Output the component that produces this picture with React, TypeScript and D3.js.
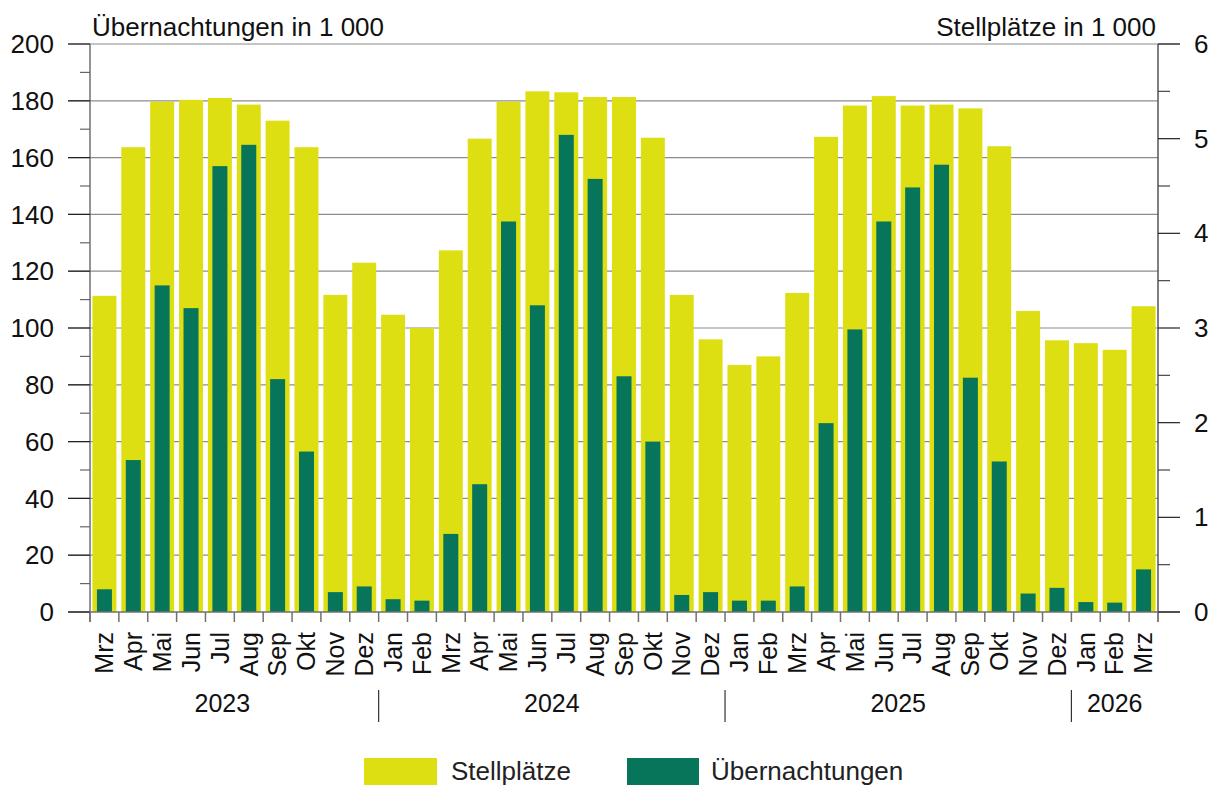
import React from 'react';
import * as d3 from 'd3';

// month labels, Mrz 2023 .. Mrz 2026
const months = [
  'Mrz', 'Apr', 'Mai', 'Jun', 'Jul', 'Aug', 'Sep', 'Okt', 'Nov', 'Dez',
  'Jan', 'Feb', 'Mrz', 'Apr', 'Mai', 'Jun', 'Jul', 'Aug', 'Sep', 'Okt', 'Nov', 'Dez',
  'Jan', 'Feb', 'Mrz', 'Apr', 'Mai', 'Jun', 'Jul', 'Aug', 'Sep', 'Okt', 'Nov', 'Dez',
  'Jan', 'Feb', 'Mrz',
];
const years = [
  { label: '2023', count: 10 },
  { label: '2024', count: 12 },
  { label: '2025', count: 12 },
  { label: '2026', count: 3 },
];

// Stellplätze in 1 000 (right axis)
const stellplaetze = [
  3.34, 4.91, 5.39, 5.41, 5.43, 5.36, 5.19, 4.91, 3.35, 3.69,
  3.14, 3.0, 3.82, 5.0, 5.39, 5.5, 5.49, 5.44, 5.44, 5.01, 3.35, 2.88,
  2.61, 2.7, 3.37, 5.02, 5.35, 5.45, 5.35, 5.36, 5.32, 4.92, 3.18, 2.87,
  2.84, 2.77, 3.23,
];
// Übernachtungen in 1 000 (left axis)
const uebernachtungen = [
  8, 53.5, 115, 107, 157, 164.5, 82, 56.5, 7, 9,
  4.5, 4, 27.5, 45, 137.5, 108, 168, 152.5, 83, 60, 6, 7,
  4, 4, 9, 66.5, 99.5, 137.5, 149.5, 157.5, 82.5, 53, 6.5, 8.5,
  3.5, 3.3, 15,
];

const leftTicks = [0, 20, 40, 60, 80, 100, 120, 140, 160, 180, 200];
const rightTicks = [0, 1, 2, 3, 4, 5, 6];

const YELLOW = '#dedf13';
const GREEN = '#07755a';
const FONT = '"Liberation Sans", Arial, sans-serif';

const App = () => {
  const width = 1213;
  const height = 785;
  const left = 90;
  const right = 1158;
  const top = 44;
  const bottom = 612;

  const keys = months.map((m, i) => `${i}-${m}`);
  const x = d3.scaleBand<string>().domain(keys).range([left, right]).padding(0);
  const bw = x.bandwidth();
  const yL = d3.scaleLinear().domain([0, 200]).range([bottom, top]);
  const yR = d3.scaleLinear().domain([0, 6]).range([bottom, top]);

  const minorL = d3.range(10, 200, 20);
  const minorR = d3.range(0.5, 6, 1);

  // year groups
  let start = 0;
  const groups = years.map(y => {
    const g = { ...y, start };
    start += y.count;
    return g;
  });

  return (
    <svg width={width} height={height} style={{ position: 'absolute', left: 0, top: 0 }}
      fontFamily={FONT} fill="#111">
      <rect width={width} height={height} fill="#fff" />

      {/* grid */}
      {leftTicks.filter(t => t > 0).map(t => (
        <line key={t} x1={68} x2={t === 200 ? 1180 : right} y1={yL(t)} y2={yL(t)}
          stroke="#8c8c8c" strokeWidth={1.2} />
      ))}

      {/* Stellplätze bars */}
      {stellplaetze.map((v, i) => (
        <rect key={`s${i}`} x={x(keys[i])! + bw * 0.085} width={bw * 0.83}
          y={yR(v)} height={bottom - yR(v)} fill={YELLOW} />
      ))}
      {/* Übernachtungen bars */}
      {uebernachtungen.map((v, i) => (
        <rect key={`u${i}`} x={x(keys[i])! + bw * 0.24} width={bw * 0.52}
          y={yL(v)} height={bottom - yL(v)} fill={GREEN} />
      ))}

      {/* axes */}
      <line x1={left} x2={left} y1={top} y2={bottom + 10} stroke="#707070" strokeWidth={1.5} />
      <line x1={right} x2={right} y1={top} y2={bottom + 10} stroke="#555" strokeWidth={1.5} />
      <line x1={68} x2={1180} y1={bottom} y2={bottom} stroke="#707070" strokeWidth={1.5} />

      {leftTicks.map(t => (
        <g key={`lt${t}`}>
          <line x1={68} x2={left} y1={yL(t)} y2={yL(t)} stroke="#222" strokeWidth={1.2} />
          <text x={54} y={yL(t)} dy="0.35em" textAnchor="end" fontSize={26}>{t}</text>
        </g>
      ))}
      {minorL.map(t => (
        <line key={`lm${t}`} x1={80} x2={left} y1={yL(t)} y2={yL(t)} stroke="#666" strokeWidth={1.2} />
      ))}
      {rightTicks.map(t => (
        <g key={`rt${t}`}>
          <line x1={right} x2={1180} y1={yR(t)} y2={yR(t)} stroke="#222" strokeWidth={1.2} />
          <text x={1194} y={yR(t)} dy="0.35em" textAnchor="start" fontSize={26}>{t}</text>
        </g>
      ))}
      {minorR.map(t => (
        <line key={`rm${t}`} x1={right} x2={1170} y1={yR(t)} y2={yR(t)} stroke="#444" strokeWidth={1.2} />
      ))}

      {/* x ticks and month labels */}
      {keys.map((k, i) => (
        <line key={`xt${i}`} x1={x(k)!} x2={x(k)!} y1={bottom} y2={bottom + 10}
          stroke="#707070" strokeWidth={1.5} />
      ))}
      {keys.map((k, i) => {
        const cx = x(k)! + bw / 2;
        return (
          <text key={`ml${i}`} transform={`translate(${cx},632) rotate(-90)`}
            textAnchor="end" dy="0.35em" fontSize={25}>{months[i]}</text>
        );
      })}

      {/* year labels */}
      {groups.map((g, gi) => {
        const x0 = x(keys[g.start])!;
        const x1 = g.start + g.count < keys.length ? x(keys[g.start + g.count])! : right;
        return (
          <g key={g.label}>
            {gi > 0 && <line x1={x0} x2={x0} y1={690} y2={722} stroke="#333" strokeWidth={1.2} />}
            <text x={(x0 + x1) / 2 - (gi === 0 ? 12 : 0)} y={712} textAnchor="middle" fontSize={25}>
              {g.label}
            </text>
          </g>
        );
      })}

      {/* axis titles */}
      <text x={92} y={36} fontSize={26}>Übernachtungen in 1 000</text>
      <text x={1156} y={36} textAnchor="end" fontSize={26}>Stellplätze in 1 000</text>

      {/* legend */}
      <rect x={364} y={758} width={73} height={27} fill={YELLOW} />
      <text x={451} y={780} fontSize={26} fill="#222">Stellplätze</text>
      <rect x={627} y={758} width={72} height={27} fill={GREEN} />
      <text x={711} y={780} fontSize={26} fill="#222">Übernachtungen</text>
    </svg>
  );
};

export default App;
